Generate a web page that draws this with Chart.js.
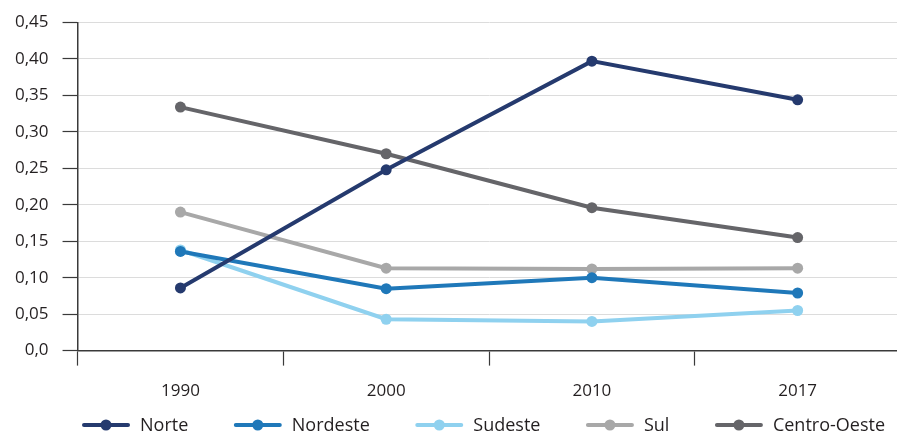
<!DOCTYPE html>
<html>
<head>
<meta charset="utf-8">
<script src="https://cdn.jsdelivr.net/npm/chart.js@4"></script>
<style>
  html, body { margin: 0; padding: 0; background: #fff; overflow: hidden; }
  #wrap { width: 897px; height: 435px; overflow: hidden; }
</style>
</head>
<body>
<div id="wrap"><canvas id="grafico" width="906" height="435"></canvas></div>
<script>
const anos = ['1990', '2000', '2010', '2017'];
const norte = [0.086, 0.248, 0.397, 0.344];
const nordeste = [0.136, 0.085, 0.100, 0.079];
const sudeste = [0.138, 0.043, 0.040, 0.055];
const sul = [0.190, 0.113, 0.112, 0.113];
const centroOeste = [0.334, 0.270, 0.196, 0.155];

const series = [
    { label: 'Norte', data: norte, cor: '#253a6e' },
    { label: 'Nordeste', data: nordeste, cor: '#1f78b9' },
    { label: 'Sudeste', data: sudeste, cor: '#8fd1ef' },
    { label: 'Sul', data: sul, cor: '#a8a8a8' },
    { label: 'Centro-Oeste', data: centroOeste, cor: '#656569' }
];

const familia = '"Open Sans", "Noto Sans", sans-serif';
const corTexto = '#231f20';

// legenda desenhada a mao: linha com ponto + texto, embaixo
const legendaLinha = {
    id: 'legendaLinha',
    afterDraw(chart) {
        const ctx = chart.ctx;
        const y = 425;
        ctx.save();
        ctx.font = '18px ' + familia;
        ctx.textBaseline = 'middle';
        const larguras = chart.data.datasets.map(ds => 48 + 10 + ctx.measureText(ds.label).width);
        const inicio = 82, fim = 885;
        const soma = larguras.reduce((a, b) => a + b, 0);
        const gap = (fim - inicio - soma) / (larguras.length - 1);
        let x = inicio;
        chart.data.datasets.forEach((ds, i) => {
            ctx.strokeStyle = ds.borderColor;
            ctx.lineWidth = 4;
            ctx.lineCap = 'round';
            ctx.beginPath();
            ctx.moveTo(x + 2, y);
            ctx.lineTo(x + 46, y);
            ctx.stroke();
            ctx.fillStyle = ds.borderColor;
            ctx.beginPath();
            ctx.arc(x + 24, y, 5.5, 0, Math.PI * 2);
            ctx.fill();
            ctx.fillStyle = corTexto;
            ctx.fillText(ds.label, x + 58, y + 1);
            x += larguras[i] + gap;
        });
        ctx.restore();
    }
};

new Chart(document.getElementById('grafico'), {
    type: 'line',
    data: {
        labels: anos,
        datasets: series.map(s => ({
            label: s.label,
            data: s.data,
            borderColor: s.cor,
            backgroundColor: s.cor,
            borderWidth: 4,
            pointRadius: 5.5,
            pointHoverRadius: 5.5,
            pointBorderWidth: 0,
            tension: 0
        }))
    },
    plugins: [legendaLinha],
    options: {
        responsive: false,
        animation: false,
        layout: { padding: { top: 4, right: 0, left: 1, bottom: 19 } },
        plugins: {
            tooltip: { enabled: false },
            legend: { display: false }
        },
        scales: {
            x: {
                offset: true,
                grid: {
                    offset: true,
                    drawOnChartArea: false,
                    drawTicks: true,
                    tickLength: 15,
                    tickColor: '#3a3a3a',
                    tickWidth: 1.2
                },
                border: { color: '#3a3a3a', width: 1.5 },
                ticks: { color: corTexto, font: { family: familia, size: 17 }, padding: 15 }
            },
            y: {
                min: 0,
                max: 0.45,
                grid: {
                    color: '#dcdcdc',
                    lineWidth: 1,
                    tickLength: 15,
                    tickColor: '#3a3a3a',
                    tickWidth: 1.2
                },
                border: { color: '#3a3a3a', width: 1.5 },
                ticks: {
                    stepSize: 0.05,
                    color: corTexto,
                    font: { family: familia, size: 17, lineHeight: 1 },
                    padding: 14,
                    callback: v => {
                        const r = Math.round(v * 100) / 100;
                        return r === 0 ? '0,0' : r.toFixed(2).replace('.', ',');
                    }
                }
            }
        }
    }
});
</script>
</body>
</html>
